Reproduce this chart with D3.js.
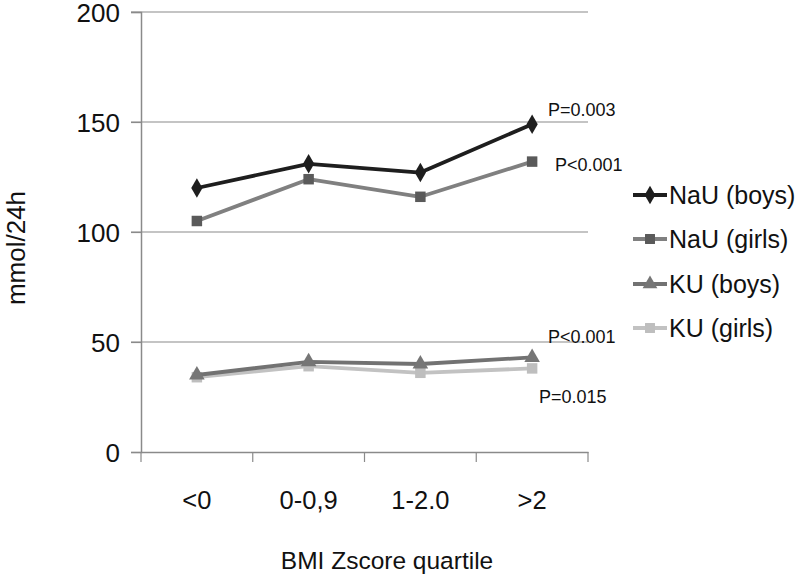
<!DOCTYPE html>
<html>
<head>
<meta charset="utf-8">
<script src="https://cdn.jsdelivr.net/npm/d3@7/dist/d3.min.js"></script>
<style>
html,body{margin:0;padding:0;background:#fff;}
text{font-family:"Liberation Sans",Arial,sans-serif;}
</style>
</head>
<body>
<svg id="chart" width="800" height="582"></svg>
<script>
const categories = ["<0", "0-0,9", "1-2.0", ">2"];
const yTicks = [0, 50, 100, 150, 200];
const seriesNames = ["NaU (boys)", "NaU (girls)", "KU (boys)", "KU (girls)"];
const nauBoys = [120, 131, 127, 149];
const nauGirls = [105, 124, 116, 132];
const kuBoys = [35, 41, 40, 43];
const kuGirls = [34, 39, 36, 38];
const pLabels = ["P=0.003", "P<0.001", "P<0.001", "P=0.015"];
const xTitle = "BMI Zscore quartile";
const yTitle = "mmol/24h";

const styles = [
  {line:"#1e1e1e", fill:"#1e1e1e", sym:d3.symbolDiamond, size:110},
  {line:"#808080", fill:"#5a5a5a", sym:d3.symbolSquare, size:110},
  {line:"#727272", fill:"#767676", sym:d3.symbolTriangle, size:105},
  {line:"#c2c2c2", fill:"#bebebe", sym:d3.symbolSquare, size:110}
];
const seriesData = [nauBoys, nauGirls, kuBoys, kuGirls];

const svg = d3.select("#chart");
const x = d3.scaleBand().domain(categories).range([141, 588]);
const y = d3.scaleLinear().domain([0, 200]).range([452, 12]);

// gridlines
svg.append("g").selectAll("line").data(yTicks.filter(d => d > 0)).join("line")
  .attr("x1", 131).attr("x2", 588)
  .attr("y1", d => y(d)).attr("y2", d => y(d))
  .attr("stroke", "#8a8a8a").attr("stroke-width", 1.2);

// y axis
const yAxis = svg.append("g").attr("transform", "translate(141,0)")
  .call(d3.axisLeft(y).tickValues(yTicks).tickSize(10).tickPadding(11));
yAxis.select(".domain").attr("stroke", "#8a8a8a").attr("stroke-width", 1.5);
yAxis.selectAll(".tick line").attr("stroke", "#8a8a8a").attr("stroke-width", 1.2);
yAxis.selectAll(".tick text").attr("font-size", 26).attr("fill", "#111").attr("dy", "0.36em")
  .attr("font-family", "'Liberation Sans',Arial,sans-serif");

// x axis
const xAxis = svg.append("g").attr("transform", "translate(0,452)")
  .call(d3.axisBottom(x).tickSize(0).tickPadding(0));
xAxis.select(".domain").attr("stroke", "#8a8a8a").attr("stroke-width", 1.5);
xAxis.selectAll(".tick text").attr("font-size", 25.5).attr("fill", "#111")
  .attr("y", 57).attr("dy", 0)
  .attr("font-family", "'Liberation Sans',Arial,sans-serif");
// category boundary ticks
const bounds = categories.map(c => x(c)).concat([x.range()[1]]);
svg.append("g").selectAll("line").data(bounds).join("line")
  .attr("x1", d => d).attr("x2", d => d).attr("y1", 452).attr("y2", 462)
  .attr("stroke", "#8a8a8a").attr("stroke-width", 1.2);

// series
const cx = c => x(c) + x.bandwidth() / 2;
const line = d3.line().x((d, i) => cx(categories[i])).y(d => y(d));
const drawOrder = [3, 2, 1, 0];
drawOrder.forEach(si => {
  const st = styles[si];
  const g = svg.append("g");
  g.append("path").datum(seriesData[si]).attr("d", line)
    .attr("fill", "none").attr("stroke", st.line).attr("stroke-width", 3.8)
    .attr("stroke-linejoin", "round");
  g.selectAll("path.m").data(seriesData[si]).join("path").attr("class", "m")
    .attr("transform", (d, i) => `translate(${cx(categories[i])},${y(d)})`)
    .attr("d", d3.symbol().type(st.sym).size(st.size))
    .attr("fill", st.fill);
});

// P annotations
const pPos = [
  {x: 548, y: 116},
  {x: 555, y: 171},
  {x: 548, y: 343},
  {x: 539, y: 403}
];
svg.append("g").selectAll("text").data(pLabels).join("text")
  .attr("x", (d, i) => pPos[i].x).attr("y", (d, i) => pPos[i].y)
  .attr("font-size", 18).attr("fill", "#111").text(d => d);

// legend
const leg = svg.append("g");
const legY = [195, 239, 284, 328];
seriesNames.forEach((name, i) => {
  const st = styles[i];
  leg.append("line").attr("x1", 633).attr("x2", 667).attr("y1", legY[i]).attr("y2", legY[i])
    .attr("stroke", st.line).attr("stroke-width", 3.8);
  leg.append("path").attr("transform", `translate(650,${legY[i]})`)
    .attr("d", d3.symbol().type(st.sym).size(st.size * 0.9)).attr("fill", st.fill);
  leg.append("text").attr("x", 669).attr("y", legY[i]).attr("dy", "0.36em")
    .attr("font-size", 25).attr("fill", "#111").text(name);
});

// axis titles
svg.append("text").attr("x", 387).attr("y", 569).attr("text-anchor", "middle")
  .attr("font-size", 24.5).attr("fill", "#111").text(xTitle);
svg.append("text").attr("transform", "translate(25,248) rotate(-90)")
  .attr("text-anchor", "middle").attr("font-size", 26).attr("fill", "#111").text(yTitle);
</script>
</body>
</html>
